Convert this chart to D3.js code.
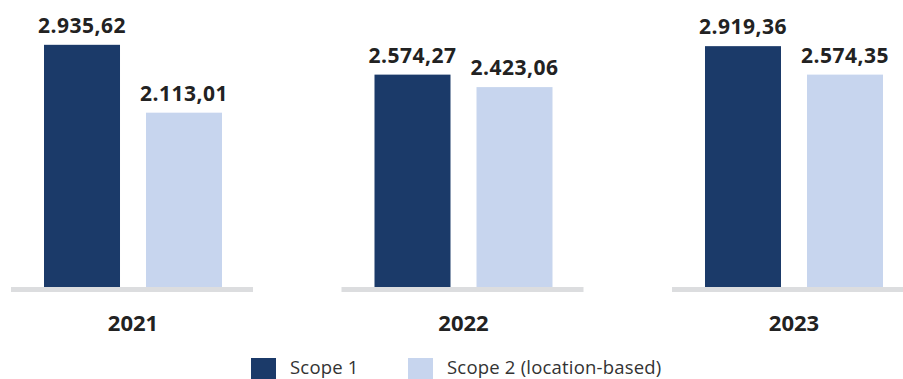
<!DOCTYPE html>
<html>
<head>
<meta charset="utf-8">
<script src="https://cdn.jsdelivr.net/npm/d3@7/dist/d3.min.js"></script>
<style>
  html, body { margin: 0; padding: 0; background: #fff; }
  svg { display: block; font-family: "Open Sans", "DejaVu Sans", sans-serif; }
</style>
</head>
<body>
<svg id="chart" width="903" height="379"></svg>
<script>
// Emissions by year (tCO2e)
const years = ["2021", "2022", "2023"];
const seriesNames = ["Scope 1", "Scope 2 (location-based)"];
const scope1 = [2935.62, 2574.27, 2919.36];
const scope2 = [2113.01, 2423.06, 2574.35];
const seriesColors = ["#1b3a69", "#c7d5ee"];

const svg = d3.select("#chart");
const baseY = 287;

// German-style number format: 2.935,62
const locale = d3.formatLocale({ decimal: ",", thousands: ".", grouping: [3], currency: ["", ""] });
const fmt = locale.format(",.2f");

const x0 = d3.scaleBand().domain(years).range([44, 883]).paddingInner(0.4614).paddingOuter(0);
const x1 = d3.scaleBand().domain(seriesNames).range([0, x0.bandwidth()]).paddingInner(0.2549).paddingOuter(0);
const y = d3.scaleLinear().domain([0, 3000]).range([baseY, baseY - 247.5]);

const rows = years.map((yr, i) => ({ year: yr, values: [scope1[i], scope2[i]] }));

// grey base strip under each year group
svg.append("g").selectAll("rect").data(years).join("rect")
  .attr("x", d => x0(d) - 33)
  .attr("y", baseY)
  .attr("width", x0.bandwidth() + 64)
  .attr("height", 5)
  .attr("fill", "#dcdddf");

const groups = svg.append("g").selectAll("g").data(rows).join("g")
  .attr("transform", d => `translate(${x0(d.year)},0)`);

const cells = groups.selectAll("g").data(d => d.values.map((v, j) => ({ name: seriesNames[j], value: v, idx: j })))
  .join("g");

cells.append("rect")
  .attr("x", d => x1(d.name))
  .attr("y", d => y(d.value))
  .attr("width", x1.bandwidth())
  .attr("height", d => baseY - y(d.value))
  .attr("fill", d => seriesColors[d.idx]);

cells.append("text")
  .attr("x", d => x1(d.name) + x1.bandwidth() / 2)
  .attr("y", d => y(d.value) - 12)
  .attr("text-anchor", "middle")
  .attr("font-size", 21)
  .attr("font-weight", 700)
  .attr("letter-spacing", 0.5)
  .attr("fill", "#222")
  .text(d => fmt(d.value));

// year labels
svg.append("g").selectAll("text").data(years).join("text")
  .attr("x", d => x0(d) + x0.bandwidth() / 2)
  .attr("y", 331)
  .attr("text-anchor", "middle")
  .attr("font-size", 22)
  .attr("font-weight", 700)
  .attr("fill", "#222")
  .text(d => d);

// legend
const legendX = [251, 408];
const legend = svg.append("g").selectAll("g").data(seriesNames).join("g")
  .attr("transform", (d, i) => `translate(${legendX[i]},358)`);
legend.append("rect")
  .attr("width", 25).attr("height", 25)
  .attr("fill", (d, i) => seriesColors[i]);
legend.append("text")
  .attr("x", 39)
  .attr("y", 16)
  .attr("font-size", 18.5)
  .attr("letter-spacing", 0.2)
  .attr("fill", "#333")
  .text(d => d);
</script>
</body>
</html>
